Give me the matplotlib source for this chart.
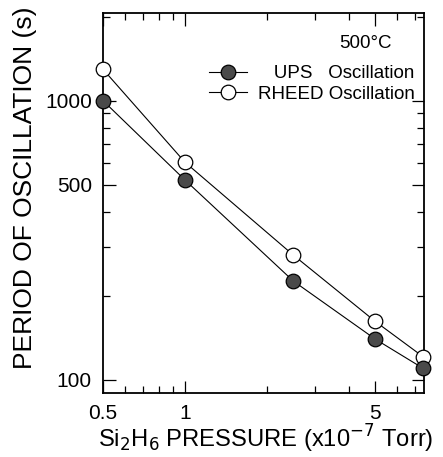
import matplotlib
matplotlib.use("Agg")
import matplotlib.pyplot as plt
from matplotlib.ticker import FixedLocator, NullFormatter
from matplotlib.lines import Line2D

# Si2H6 pressure (x1e-7 Torr) and oscillation periods (s) at 500 C
pressure = [0.5, 1.0, 2.5, 5.0, 7.5]
ups_period = [1000, 520, 226, 140, 110]
rheed_period = [1295, 602, 280, 162, 121]

x_major = [0.5, 1, 5]
x_major_labels = ["0.5", "1", "5"]
x_minor = [0.6, 0.7, 0.8, 0.9, 2, 3, 4, 6, 7]
y_major = [100, 500, 1000]
y_major_labels = ["100", "500", "1000"]
y_minor = [200, 300, 400, 600, 700, 800, 900, 2000]

plt.rcParams["font.family"] = ["Liberation Sans", "DejaVu Sans"]

fig = plt.figure(figsize=(4.43, 4.57), dpi=100)
ax = fig.add_axes([103 / 443, 1 - 393 / 457, 321 / 443, 380 / 457])

ax.plot(pressure, rheed_period, "-o", color="black", lw=0.8,
        mfc="white", mec="black", mew=0.9, ms=10.5, clip_on=False, zorder=3)
ax.plot(pressure, ups_period, "-o", color="black", lw=0.8,
        mfc="#4a4a4a", mec="black", mew=0.9, ms=10.5, clip_on=False, zorder=3)

ax.set_xscale("log")
ax.set_yscale("log")
ax.set_xlim(0.5, 7.55)
ax.set_ylim(89.8, 2060)

ax.xaxis.set_major_locator(FixedLocator(x_major))
ax.xaxis.set_minor_locator(FixedLocator(x_minor))
ax.set_xticklabels(x_major_labels)
ax.xaxis.set_minor_formatter(NullFormatter())
ax.yaxis.set_major_locator(FixedLocator(y_major))
ax.yaxis.set_minor_locator(FixedLocator(y_minor))
ax.set_yticklabels(y_major_labels)
ax.yaxis.set_minor_formatter(NullFormatter())

ax.tick_params(which="both", direction="in", top=True, right=True,
               labelsize=15, width=0.9)
ax.tick_params(which="major", length=9, pad=8)
ax.tick_params(which="minor", length=5)
for s in ax.spines.values():
    s.set_linewidth(1.3)

ax.set_xlabel("Si$_2$H$_6$ PRESSURE (x10$^{-7}$ Torr)", fontsize=17.1)
ax.xaxis.set_label_coords(0.508, -0.078)
ax.set_ylabel("PERIOD OF OSCILLATION (s)", fontsize=19)
ax.yaxis.set_label_coords(-0.205, 0.541)

ax.text(0.90, 0.92, "500\u00b0C", transform=ax.transAxes, fontsize=13.5,
        ha="right", va="center")

handles = [
    Line2D([], [], color="black", lw=0.8, marker="o", ms=10.5,
           mfc="#4a4a4a", mec="black", mew=0.9),
    Line2D([], [], color="black", lw=0.8, marker="o", ms=10.5,
           mfc="white", mec="black", mew=0.9),
]
ax.legend(handles, ["   UPS   Oscillation", "RHEED Oscillation"],
          loc="upper right", bbox_to_anchor=(0.995, 0.883), frameon=False,
          fontsize=13.5, handlelength=2.0, handletextpad=0.6,
          labelspacing=0.2, borderaxespad=0.0)

fig.savefig("out.png", dpi=100)
